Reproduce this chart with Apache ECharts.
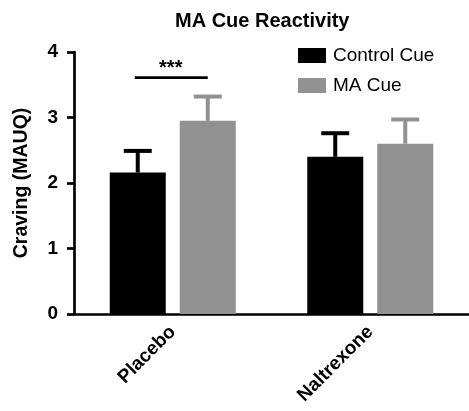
<!DOCTYPE html>
<html>
<head>
<meta charset="utf-8">
<script src="https://cdn.jsdelivr.net/npm/echarts@6/dist/echarts.min.js"></script>
<style>
html,body{margin:0;padding:0;background:#fff;}
#chart{width:469px;height:411px;}
</style>
</head>
<body>
<div id="chart"></div>
<script>
var categories = ['Placebo', 'Naltrexone'];
var seriesNames = ['Control Cue', 'MA Cue'];
var controlMeans = [2.16, 2.40];
var controlUpper = [2.49, 2.76];
var maMeans = [2.95, 2.60];
var maUpper = [3.32, 2.97];
var yTicks = [0, 1, 2, 3, 4];
var sigLevel = 3.61;
var sigLabel = '***';

var FONT = 'Liberation Sans, Arial, Helvetica, sans-serif';
var BLACK = '#000000';
var GRAY = '#919191';
var BAR_W = 56;
var GAP = 14;
var OFF = (BAR_W + GAP) / 2;

function errData(means, upper) {
  return means.map(function (m, i) { return [i, m, upper[i]]; });
}

function errRender(offset, color) {
  return function (params, api) {
    var i = api.value(0);
    var base = api.coord([i, api.value(1)]);
    var top = api.coord([i, api.value(2)]);
    var x = base[0] + offset;
    return {
      type: 'group',
      children: [
        { type: 'line', shape: { x1: x, y1: base[1], x2: x, y2: top[1] }, style: { stroke: color, lineWidth: 4 } },
        { type: 'line', shape: { x1: x - 14, y1: top[1], x2: x + 14, y2: top[1] }, style: { stroke: color, lineWidth: 4 } }
      ]
    };
  };
}

var chart = echarts.init(document.getElementById('chart'));
chart.setOption({
  animation: false,
  backgroundColor: '#ffffff',
  title: {
    text: 'MA Cue Reactivity',
    left: 170,
    top: 6,
    textStyle: { fontFamily: FONT, fontWeight: 'bold', fontSize: 20, color: '#000' }
  },
  legend: {
    orient: 'vertical',
    left: 293,
    top: 41,
    itemWidth: 28,
    itemHeight: 15,
    itemGap: 11,
    icon: 'rect',
    data: seriesNames,
    textStyle: { fontFamily: FONT, fontSize: 19, color: '#000', padding: [0, 0, 0, 2] }
  },
  grid: { left: 74, right: 0, top: 52, bottom: 97, containLabel: false },
  xAxis: {
    type: 'category',
    data: categories,
    axisLine: { lineStyle: { color: '#000', width: 2.7 } },
    axisTick: { alignWithLabel: true, length: 7, lineStyle: { color: '#000', width: 2.7 } },
    axisLabel: { rotate: 45, margin: 15, fontFamily: FONT, fontWeight: 'bold', fontSize: 19, color: '#000' }
  },
  yAxis: {
    type: 'value',
    min: yTicks[0],
    max: yTicks[yTicks.length - 1],
    interval: 1,
    name: 'Craving (MAUQ)',
    nameLocation: 'middle',
    nameGap: 42,
    nameTextStyle: { fontFamily: FONT, fontWeight: 'bold', fontSize: 19.5, color: '#000' },
    splitLine: { show: false },
    axisLine: { show: true, lineStyle: { color: '#000', width: 2.7 } },
    axisTick: { show: true, length: 7, lineStyle: { color: '#000', width: 2.7 } },
    axisLabel: { margin: 16, fontFamily: FONT, fontWeight: 'bold', fontSize: 19, color: '#000' }
  },
  series: [
    {
      name: seriesNames[0], type: 'bar', data: controlMeans,
      barWidth: BAR_W, barGap: (GAP / BAR_W * 100) + '%',
      itemStyle: { color: BLACK }, z: 2
    },
    {
      name: seriesNames[1], type: 'bar', data: maMeans,
      barWidth: BAR_W, barGap: (GAP / BAR_W * 100) + '%',
      itemStyle: { color: GRAY }, z: 2
    },
    {
      type: 'custom', data: errData(controlMeans, controlUpper),
      renderItem: errRender(-OFF, BLACK), z: 1, silent: true
    },
    {
      type: 'custom', data: errData(maMeans, maUpper),
      renderItem: errRender(OFF, GRAY), z: 1, silent: true
    },
    {
      type: 'custom', data: [[0, sigLevel]], z: 3, silent: true,
      renderItem: function (params, api) {
        var p = api.coord([api.value(0), api.value(1)]);
        return {
          type: 'group',
          children: [
            { type: 'line', shape: { x1: p[0] - OFF - 3, y1: p[1], x2: p[0] + OFF, y2: p[1] }, style: { stroke: '#000', lineWidth: 2.7 } },
            { type: 'text', style: { text: sigLabel, x: p[0] - 2, y: p[1] - 19, align: 'center', verticalAlign: 'top', font: 'bold 20px ' + FONT, fill: '#000' } }
          ]
        };
      }
    }
  ]
});
</script>
</body>
</html>
